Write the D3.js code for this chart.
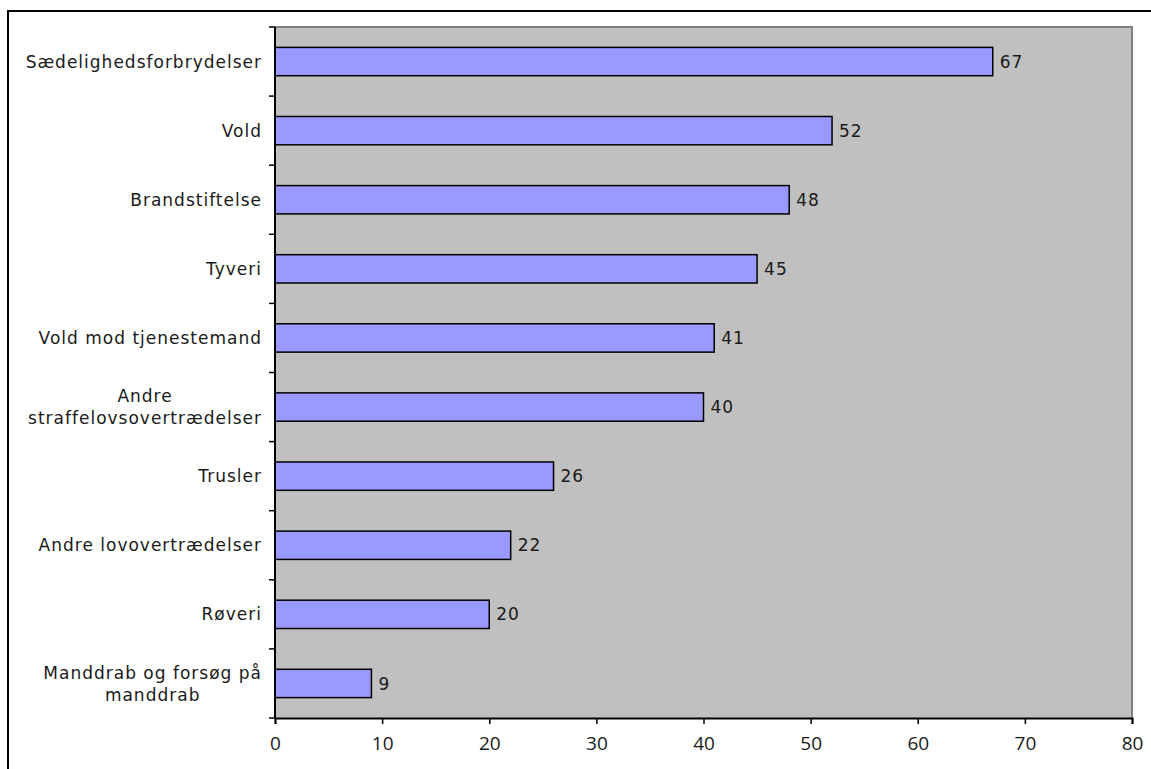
<!DOCTYPE html>
<html>
<head>
<meta charset="utf-8">
<script src="https://cdn.jsdelivr.net/npm/d3@7"></script>
<style>
  body { margin: 0; background: #fff; }
  svg { display: block; }
</style>
</head>
<body>
<div id="chart"></div>
<script>
// categories top to bottom
var categories = [
	'Sædelighedsforbrydelser',
	'Vold',
	'Brandstiftelse',
	'Tyveri',
	'Vold mod tjenestemand',
	'Andre\nstraffelovsovertrædelser',
	'Trusler',
	'Andre lovovertrædelser',
	'Røveri',
	'Manddrab og forsøg på\nmanddrab'
];
var values = [67, 52, 48, 45, 41, 40, 26, 22, 20, 9];
var xTicks = [0, 10, 20, 30, 40, 50, 60, 70, 80];

const W = 1151, H = 769;
const MARGIN = { TOP: 27, LEFT: 275, RIGHT: 19, BOTTOM: 51 };
const PW = W - MARGIN.LEFT - MARGIN.RIGHT;
const PH = H - MARGIN.TOP - MARGIN.BOTTOM;
const LABEL_FONT = '"DejaVu Sans", Verdana, sans-serif';
const TEXT_COLOR = '#1a1a1a';

var svg = d3.select('#chart').append('svg')
	.attr('width', W)
	.attr('height', H);

// outer frame (runs off the right and bottom edge)
svg.append('path')
	.attr('d', 'M8,' + (H + 5) + 'V11H' + (W + 5))
	.attr('fill', 'none')
	.attr('stroke', '#000')
	.attr('stroke-width', 2);

var g = svg.append('g')
	.attr('transform', 'translate(' + MARGIN.LEFT + ',' + MARGIN.TOP + ')');

var x = d3.scaleLinear().domain([0, 80]).range([0, PW]);
var y = d3.scaleBand().domain(categories).range([0, PH]).paddingInner(0.59).paddingOuter(0.295);
var band = d3.scaleBand().domain(categories).range([0, PH]);

// plot area
g.append('rect')
	.attr('x', 0).attr('y', 0)
	.attr('width', PW).attr('height', PH)
	.attr('fill', '#c0c0c0');
g.append('path')
	.attr('d', 'M0,0H' + PW + 'V' + PH)
	.attr('fill', 'none')
	.attr('stroke', '#808080')
	.attr('stroke-width', 2);

// bars
g.selectAll('.bar').data(values).enter().append('rect')
	.attr('class', 'bar')
	.attr('x', x(0))
	.attr('y', function (d, i) { return y(categories[i]); })
	.attr('width', function (d) { return x(d) - x(0); })
	.attr('height', y.bandwidth())
	.attr('fill', '#9999ff')
	.attr('stroke', '#000')
	.attr('stroke-width', 1.5);

// value labels
g.selectAll('.val').data(values).enter().append('text')
	.attr('class', 'val')
	.attr('x', function (d) { return x(d) + 7; })
	.attr('y', function (d, i) { return y(categories[i]) + y.bandwidth() / 2; })
	.attr('dy', '0.36em')
	.attr('font-family', LABEL_FONT)
	.attr('font-size', 17)
	.attr('letter-spacing', 1)
	.attr('fill', TEXT_COLOR)
	.text(function (d) { return d; });

// x axis
var xAxis = d3.axisBottom(x).tickValues(xTicks).tickSize(6).tickPadding(13);
var xg = g.append('g')
	.attr('transform', 'translate(0,' + PH + ')')
	.call(xAxis);
xg.select('.domain').attr('stroke', '#000').attr('stroke-width', 2);
xg.selectAll('.tick line').attr('stroke', '#000').attr('stroke-width', 1.5);
xg.selectAll('.tick text')
	.attr('font-family', '"Open Sans", "Noto Sans", sans-serif')
	.attr('font-size', 19)
	.attr('fill', TEXT_COLOR);

// y axis line + ticks on band boundaries
g.append('line')
	.attr('x1', 0).attr('x2', 0)
	.attr('y1', 0).attr('y2', PH)
	.attr('stroke', '#000').attr('stroke-width', 2);
var bounds = categories.map(function (c) { return band(c); }).concat([PH]);
g.selectAll('.ytick').data(bounds).enter().append('line')
	.attr('class', 'ytick')
	.attr('x1', -6).attr('x2', 0)
	.attr('y1', function (d) { return d; })
	.attr('y2', function (d) { return d; })
	.attr('stroke', '#000').attr('stroke-width', 1.5);

// category labels, wrapped ones centred on their widest line
var labelRight = -13;
categories.forEach(function (c) {
	var lines = c.split('\n');
	var cy = y(c) + y.bandwidth() / 2;
	var t = g.append('text')
		.attr('font-family', LABEL_FONT)
		.attr('font-size', 17)
		.attr('letter-spacing', 1)
		.attr('fill', TEXT_COLOR);
	var lh = 22;
	lines.forEach(function (l, k) {
		t.append('tspan')
			.attr('y', cy + (k - (lines.length - 1) / 2) * lh)
			.attr('dy', '0.36em')
			.text(l);
	});
	var maxW = 0;
	t.selectAll('tspan').each(function () {
		maxW = Math.max(maxW, this.getComputedTextLength());
	});
	if (lines.length === 1) {
		t.attr('text-anchor', 'end');
		t.selectAll('tspan').attr('x', labelRight);
	} else {
		t.attr('text-anchor', 'middle');
		t.selectAll('tspan').attr('x', labelRight - maxW / 2);
	}
});
</script>
</body>
</html>
